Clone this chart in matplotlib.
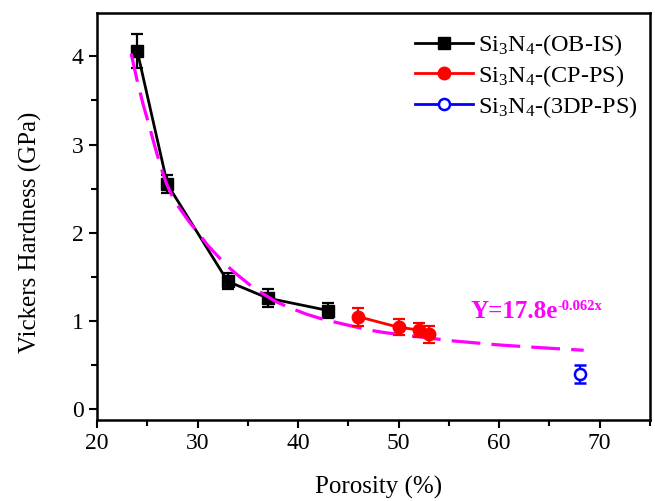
import matplotlib
matplotlib.use("Agg")
import matplotlib.pyplot as plt
from matplotlib.ticker import MultipleLocator

# Vickers hardness vs porosity for the three Si3N4 processing routes
ob_porosity = [24, 27, 33, 37, 43]
ob_hardness = [4.06, 2.55, 1.45, 1.26, 1.12]
ob_err = [0.19, 0.10, 0.09, 0.10, 0.08]

cp_porosity = [46, 50, 52, 53]
cp_hardness = [1.05, 0.93, 0.90, 0.85]
cp_err = [0.10, 0.09, 0.08, 0.10]

dp_porosity = [68]
dp_hardness = [0.40]
dp_err = [0.10]

# fitted trend curve
fit_x = [23.4, 24.0, 24.6, 25.2, 25.7, 26.3, 26.9, 27.5, 28.2, 29.2, 30.2, 31.0,
         31.9, 32.9, 33.9, 35.2, 36.5, 37.8, 39.2, 40.8, 42.5, 44.0, 45.5, 47.0,
         48.6, 51.5, 55.0, 57.5, 60.0, 64.0, 68.4]
fit_y = [4.03, 3.72, 3.45, 3.21, 3.00, 2.76, 2.56, 2.41, 2.28, 2.12, 1.98, 1.86,
         1.75, 1.63, 1.53, 1.41, 1.31, 1.22, 1.15, 1.08, 1.02, 0.98, 0.94, 0.90,
         0.87, 0.83, 0.78, 0.755, 0.73, 0.70, 0.67]

plt.rcParams['font.family'] = 'Liberation Serif'
plt.rcParams['mathtext.fontset'] = 'custom'
plt.rcParams['mathtext.rm'] = 'Liberation Serif'
plt.rcParams['mathtext.it'] = 'Liberation Serif:italic'
plt.rcParams['mathtext.bf'] = 'Liberation Serif:bold'

fig = plt.figure(figsize=(6.55, 5.01), dpi=100)
ax = fig.add_axes([0.1481, 0.1617, 0.8443, 0.8123])

ob = ax.errorbar(ob_porosity, ob_hardness, yerr=ob_err, color='black', marker='s',
                 markersize=8, linewidth=2, elinewidth=1.6, capsize=4, capthick=1.6,
                 zorder=2)
ax.plot(fit_x, fit_y, color='#ff00ff', linewidth=2.3, dashes=(9, 3.5), zorder=2.5)
cp = ax.errorbar(cp_porosity, cp_hardness, yerr=cp_err, color='red', marker='o',
                 markersize=9, linewidth=2, elinewidth=1.6, capsize=4, capthick=1.6,
                 zorder=3)
dp = ax.errorbar(dp_porosity, dp_hardness, yerr=dp_err, color='blue', marker='o',
                 markersize=8, markerfacecolor='white', markeredgewidth=1.8,
                 linewidth=2, elinewidth=1.6, capsize=4, capthick=1.6, zorder=3)

ax.legend([ob[0], cp[0], dp[0]],
          ['Si$_3$N$_4$-(OB-IS)', 'Si$_3$N$_4$-(CP-PS)', 'Si$_3$N$_4$-(3DP-PS)'],
          loc='upper right', frameon=False, fontsize=17.5, handlelength=2.4,
          handletextpad=0.2, labelspacing=0.2, borderaxespad=0.3,
          bbox_to_anchor=(1.008, 0.995))

eq = ax.text(57.1, 1.04, 'Y=17.8e', color='#ff00ff', fontsize=18,
             fontweight='bold', va='baseline', ha='left')
ax.annotate('-0.062x', xy=(1.0, 1.0), xycoords=eq, color='#ff00ff', fontsize=10.5,
            fontweight='bold', va='top', ha='left')

ax.set_xlim(20, 75)
ax.set_ylim(-0.12, 4.49)
ax.xaxis.set_major_locator(MultipleLocator(10))
ax.xaxis.set_minor_locator(MultipleLocator(5))
ax.yaxis.set_major_locator(MultipleLocator(1))
ax.yaxis.set_minor_locator(MultipleLocator(0.5))
ax.set_xticks([20, 30, 40, 50, 60, 70])
ax.tick_params(which='both', direction='out', width=1.5, labelsize=17,
               top=False, right=False)
ax.tick_params(which='major', length=6)
ax.tick_params(which='minor', length=4)
for side in ax.spines.values():
    side.set_linewidth(1.8)

ax.set_xlabel('Porosity (%)', fontsize=18)
ax.set_ylabel('Vickers Hardness (GPa)', fontsize=18)
ax.xaxis.set_label_coords(0.51, -0.138)
ax.yaxis.set_label_coords(-0.1, 0.461)

fig.savefig('out.png', dpi=100)
